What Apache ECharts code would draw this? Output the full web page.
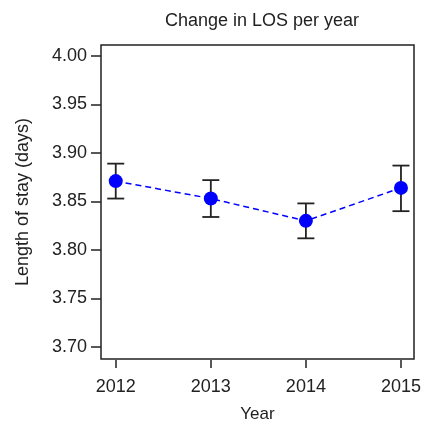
<!DOCTYPE html>
<html><head><meta charset="utf-8">
<script src="https://cdn.jsdelivr.net/npm/echarts@6/dist/echarts.min.js"></script>
<style>html,body{margin:0;padding:0;background:#fff}#c{width:425px;height:424px}</style>
</head><body><div id="c"></div>
<script>
const years = [2012, 2013, 2014, 2015];
const means = [3.871, 3.853, 3.830, 3.864];
const lower = [3.853, 3.834, 3.812, 3.840];
const upper = [3.889, 3.872, 3.848, 3.887];
const yTicks = [3.70, 3.75, 3.80, 3.85, 3.90, 3.95, 4.00];
const xTicks = [2012, 2013, 2014, 2015];

const FONT = 'Liberation Sans';
const chart = echarts.init(document.getElementById('c'), null, {renderer: 'canvas'});
chart.setOption({
  animation: false,
  backgroundColor: '#fff',
  title: {
    text: 'Change in LOS per year', left: 257, top: 7, textAlign: 'center',
    textStyle: {fontFamily: FONT, fontSize: 18, fontWeight: 'normal', color: '#222'}
  },
  grid: {left: 101, right: 11, top: 45, bottom: 65, outerBoundsMode: 'none', containLabel: false,
         show: true, borderColor: '#222', borderWidth: 1.5, backgroundColor: 'transparent'},
  xAxis: {
    type: 'value', min: 2011.845, max: 2015.137,
    name: 'Year', nameLocation: 'middle', nameGap: 46,
    nameTextStyle: {fontFamily: FONT, fontSize: 17, color: '#222'},
    offset: 1,
    axisLine: {show: false},
    axisTick: {show: true, length: 8, customValues: xTicks, lineStyle: {color: '#222', width: 1.5}},
    axisLabel: {customValues: xTicks, fontFamily: FONT, fontSize: 18, color: '#222', margin: 18, formatter: v => String(Math.round(v))},
    splitLine: {show: false}
  },
  yAxis: {
    type: 'value', min: 3.6876, max: 4.0113,
    name: 'Length of stay (days)', nameLocation: 'middle', nameGap: 69,
    nameTextStyle: {fontFamily: FONT, fontSize: 18, color: '#222'},
    axisLine: {show: false},
    axisTick: {show: true, length: 10, customValues: yTicks, lineStyle: {color: '#222', width: 1.5}},
    axisLabel: {customValues: yTicks, fontFamily: FONT, fontSize: 18, color: '#222', margin: 14, formatter: v => v.toFixed(2)},
    splitLine: {show: false}
  },
  series: [
    {
      type: 'custom',
      z: 2,
      data: years.map((y, i) => [y, lower[i], upper[i]]),
      renderItem: function (params, api) {
        const x = api.value(0);
        const lo = api.coord([x, api.value(1)]);
        const hi = api.coord([x, api.value(2)]);
        const hw = 8.5;
        const st = {stroke: '#222', lineWidth: 1.8};
        return {type: 'group', children: [
          {type: 'line', shape: {x1: lo[0], y1: lo[1], x2: hi[0], y2: hi[1]}, style: st},
          {type: 'line', shape: {x1: lo[0] - hw, y1: lo[1], x2: lo[0] + hw, y2: lo[1]}, style: st},
          {type: 'line', shape: {x1: hi[0] - hw, y1: hi[1], x2: hi[0] + hw, y2: hi[1]}, style: st}
        ]};
      }
    },
    {
      type: 'line', z: 3,
      data: years.map((y, i) => [y, means[i]]),
      symbol: 'circle', symbolSize: 14,
      itemStyle: {color: '#0000ff'},
      lineStyle: {color: '#0000ff', width: 1.5, type: [6, 4]}
    }
  ]
});
</script></body></html>
